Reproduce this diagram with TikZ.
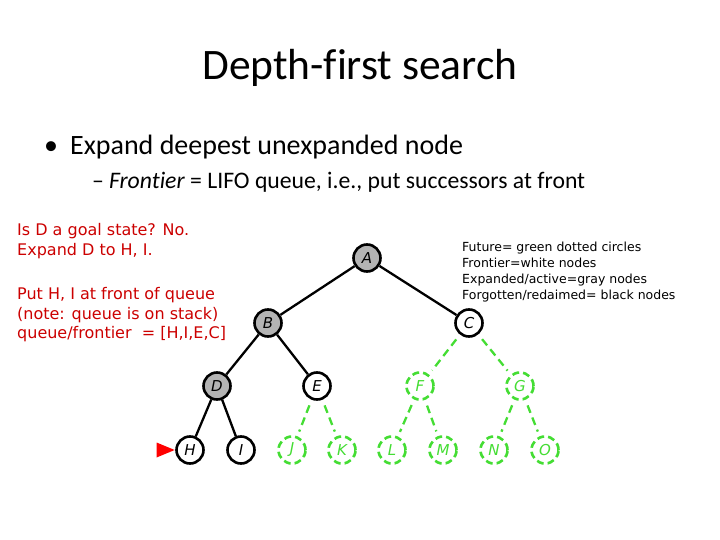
\documentclass[tikz,border=0pt]{standalone}
\usepackage{fontspec}
\setmainfont[Ligatures=NoCommon]{Carlito}
\newfontfamily\notefont{DejaVu Sans}
\usetikzlibrary{positioning,shapes.geometric}
\definecolor{NoteRed}{HTML}{CC0000}
\definecolor{FutureGreen}{HTML}{44DD33}
\definecolor{ExpGrey}{HTML}{B4B4B4}
\newcommand\Rad{27pt}
\newcommand\RowA{258}
\newcommand\RowB{323}
\newcommand\RowC{386}
\newcommand\RowD{450}
\tikzstyle{expanded}=[circle,draw=black,line width=2.6pt,fill=ExpGrey,
                     minimum size=\Rad,inner sep=0pt,font=\notefont\itshape\fontsize{15}{16}\selectfont]
\tikzstyle{frontier}=[circle,draw=black,line width=2.6pt,fill=white,
                     minimum size=\Rad,inner sep=0pt,font=\notefont\itshape\fontsize{15}{16}\selectfont]
\tikzstyle{future}=[circle,draw=FutureGreen,line width=2.6pt,dash pattern=on 7pt off 4pt,
                     text=FutureGreen,minimum size=\Rad,inner sep=0pt,
                     font=\notefont\itshape\fontsize{15}{16}\selectfont]
\tikzstyle{edge}=[black,line width=2.3pt]
\tikzstyle{futedge}=[FutureGreen,line width=2.3pt,dash pattern=on 8pt off 5pt,
                     shorten >=5pt,shorten <=6pt]
\begin{document}
\begin{tikzpicture}[x=1pt,y=-1pt]
   \useasboundingbox[fill=white] (0,0) rectangle (720,540);
   % slide title and bullets
   \node[anchor=base] (title) at (360,80) {\fontsize{43.5}{48}\selectfont Depth-first search};
   \node[anchor=base west,inner sep=0pt] (bullet) at (44,155)
      {\fontsize{28}{31}\selectfont \textbullet\hspace{12pt}Expand deepest unexpanded node};
   \node[anchor=base west,inner sep=0pt] (sub) at (92,189)
      {\fontsize{23.7}{27}\selectfont --\hspace{5pt}\textit{Frontier} = LIFO queue, i.e., put successors at front};
   % notes
   \node[anchor=north west,align=left,text=NoteRed,inner sep=0pt,
         font=\notefont\fontsize{16}{19.5}\selectfont] (note) at (17,223.5)
      {Is D a goal state? No.\\ Expand D to H, I.\\[25pt]
       Put H, I at front of queue\\ (note: queue is on stack)\\ queue/frontier~~= [H,I,E,C]};
   \node[anchor=north west,align=left,inner sep=0pt,
         font=\notefont\fontsize{12.5}{16.2}\selectfont] (legend) at (462,241.5)
      {Future= green dotted circles\\ Frontier=white nodes\\
       Expanded/active=gray nodes\\ Forgotten/redaimed= black nodes};
   % tree
   \node[expanded] (A) at (367,\RowA) {A};
   \node[expanded] (B) at (268,\RowB) {B};
   \node[frontier] (C) at (469,\RowB) {C};
   \node[expanded] (D) at (217,\RowC) {D};
   \node[frontier] (E) at (317,\RowC) {E};
   \node[future] (F) at (420,\RowC) {F};
   \node[future] (G) at (520,\RowC) {G};
   \node[frontier] (H) at (190,\RowD) {H};
   \node[frontier] (I) at (241,\RowD) {I};
   \node[future] (J) at (292,\RowD) {J};
   \node[future] (K) at (342,\RowD) {K};
   \node[future] (L) at (392,\RowD) {L};
   \node[future] (M) at (443,\RowD) {M};
   \node[future] (N) at (494,\RowD) {N};
   \node[future] (O) at (545,\RowD) {O};
   \draw[edge] (A) -- (B);
   \draw[edge] (A) -- (C);
   \draw[edge] (B) -- (D);
   \draw[edge] (B) -- (E);
   \draw[edge] (D) -- (H);
   \draw[edge] (D) -- (I);
   \draw[futedge] (C) -- (F);
   \draw[futedge] (C) -- (G);
   \draw[futedge] (E) -- (J);
   \draw[futedge] (E) -- (K);
   \draw[futedge] (F) -- (L);
   \draw[futedge] (F) -- (M);
   \draw[futedge] (G) -- (N);
   \draw[futedge] (G) -- (O);
   % pointer to current node
   \node[isosceles triangle,fill=red,inner sep=0pt,minimum width=15pt,minimum height=12pt,
         left=0pt of H] (ptr) {};
\end{tikzpicture}
\end{document}
